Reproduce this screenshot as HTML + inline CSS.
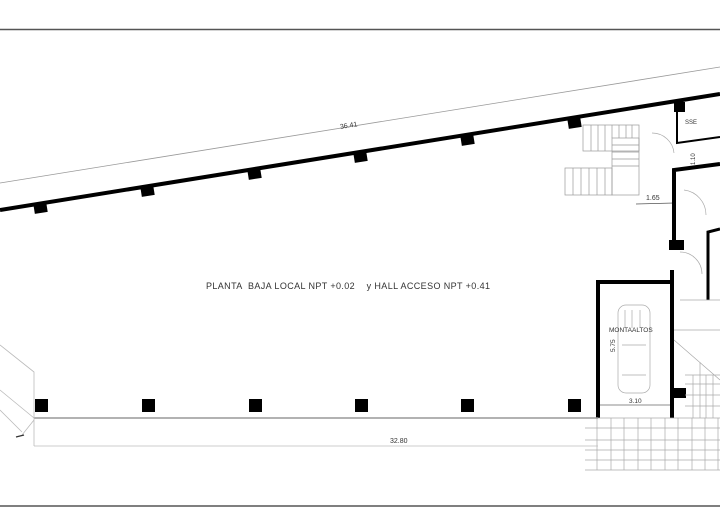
<!DOCTYPE html>
<html><head><meta charset="utf-8"><style>
html,body{margin:0;padding:0;background:#fff;width:720px;height:532px;overflow:hidden}
svg{display:block}
text{font-family:"Liberation Sans",sans-serif;fill:#333}
</style></head><body>
<svg width="720" height="532" viewBox="0 0 720 532" xmlns="http://www.w3.org/2000/svg">
<line x1="0" y1="29.5" x2="720" y2="29.5" stroke="#555" stroke-width="1.5"/>
<line x1="0" y1="506" x2="720" y2="506" stroke="#555" stroke-width="1.5"/>
<line x1="0" y1="183" x2="720" y2="67" stroke="#999" stroke-width="0.8"/>
<text x="340" y="129" font-size="7" transform="rotate(-9 340 127)">36.41</text>
<line x1="0" y1="210" x2="720" y2="94" stroke="#000" stroke-width="4"/>
<g fill="#000">
<rect x="34" y="204" width="13" height="9" transform="rotate(-9 40 208)"/>
<rect x="141" y="187" width="13" height="9" transform="rotate(-9 147 191)"/>
<rect x="248" y="170" width="13" height="9" transform="rotate(-9 254 174)"/>
<rect x="354" y="153" width="13" height="9" transform="rotate(-9 360 157)"/>
<rect x="461" y="136" width="13" height="9" transform="rotate(-9 467 140)"/>
<rect x="568" y="119" width="13" height="9" transform="rotate(-9 574 123)"/>
<rect x="674" y="102" width="11" height="10"/>
</g>
<g stroke="#999" stroke-width="0.7" fill="none">
<rect x="583" y="125" width="56" height="26"/>
<rect x="612" y="138" width="27" height="57"/>
<rect x="565" y="168" width="47" height="27"/>
<path d="M591 125v26M598 125v26M605 125v26M612 125v13M619 125v13M626 125v13M632 125v13M612 145h27M612 152h27M612 159h27M612 166h27M573 168v27M581 168v27M589 168v27M597 168v27M605 168v27"/>
</g>
<text x="646" y="200" font-size="7">1.65</text>
<line x1="636" y1="204" x2="674" y2="203" stroke="#555" stroke-width="0.7"/>
<g stroke="#000" fill="none">
<path d="M677 112V143L720 137" stroke-width="2"/>
<path d="M674 250V170L720 164" stroke-width="4"/>
<path d="M708 300V232L720 229" stroke-width="3"/>
<line x1="672" y1="270" x2="672" y2="418" stroke-width="4"/>
</g>
<rect x="669" y="240" width="15" height="10" fill="#000"/>
<rect x="673" y="388" width="13" height="10" fill="#000"/>
<text x="685" y="124" font-size="6">SSE</text>
<text x="690" y="170" font-size="6" transform="rotate(-90 690 165)">1.10</text>
<g stroke="#aaa" stroke-width="0.7" fill="none">
<path d="M652 133a22 22 0 0 1 22 20M684 190a25 25 0 0 1 22 25M680 252a22 22 0 0 1 22 22"/>
<path d="M674 330H720M674 340L720 380M700 362V418M685 375H720M685 384H720M685 395H720M685 406H720M693 375V418M706 375V418M713 375V418M680 300h40"/>
</g>
<path d="M598 418V282H672" stroke="#000" stroke-width="4" fill="none"/>
<g stroke="#aaa" stroke-width="0.7" fill="none">
<rect x="618" y="305" width="32" height="88" rx="8"/>
<path d="M622 345h24M622 375h24M625 310v18M632 310v18M640 310v18"/>
<line x1="600" y1="405" x2="670" y2="405" stroke="#666"/>
</g>
<text x="609" y="332" font-size="6.5">MONTAALTOS</text>
<text x="612" y="355" font-size="6.5" transform="rotate(-90 612 352)">5.75</text>
<text x="629" y="403" font-size="6.5">3.10</text>
<g stroke="#aaa" stroke-width="0.7">
<path d="M585 418H720M585 428H720M585 440H720M585 450H720M585 460H720M585 470H720"/>
<path d="M597 418V470M611 418V470M624 418V470M638 418V470M651 418V470M665 418V470M678 418V470M692 418V470M705 418V470M718 418V470"/>
</g>
<g fill="#000">
<rect x="35" y="399" width="13" height="13"/>
<rect x="142" y="399" width="13" height="13"/>
<rect x="249" y="399" width="13" height="13"/>
<rect x="355" y="399" width="13" height="13"/>
<rect x="461" y="399" width="13" height="13"/>
<rect x="568" y="399" width="13" height="13"/>
</g>
<line x1="34" y1="418" x2="598" y2="418" stroke="#999" stroke-width="1.5"/>
<line x1="34" y1="446" x2="598" y2="446" stroke="#bbb" stroke-width="0.8"/>
<text x="390" y="443" font-size="7">32.80</text>
<g stroke="#bbb" stroke-width="0.8" fill="none">
<path d="M0 345L34 372V446M0 390L34 418M0 410L22 432M34 420L22 435"/>
</g>
<line x1="16" y1="437" x2="24" y2="435" stroke="#333" stroke-width="1.2"/>
<text x="206" y="289" font-size="9" textLength="284" lengthAdjust="spacing" xml:space="preserve">PLANTA  BAJA LOCAL NPT +0.02    y HALL ACCESO NPT +0.41</text>
</svg>
</body></html>
